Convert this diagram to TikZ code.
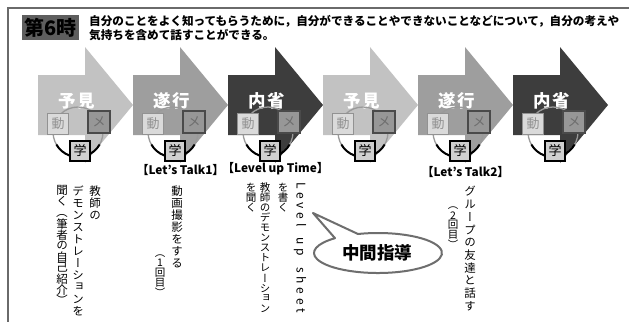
\documentclass[tikz,border=0pt]{standalone}
\usepackage{fontspec}
\usepackage{graphicx}
\setmainfont{Noto Sans CJK JP}
\newfontfamily\jp{Noto Sans CJK JP}
\newfontfamily\vjp[RawFeature=+vert]{Noto Sans CJK JP}
\usetikzlibrary{calc}
\definecolor{aone}{HTML}{C2C2C2}
\definecolor{atwo}{HTML}{9E9E9E}
\definecolor{athree}{HTML}{3D3D3D}
\definecolor{framegrey}{HTML}{6A6A6A}
\definecolor{titlebox}{HTML}{5E5E5E}
\definecolor{arcgrey}{HTML}{9A9A9A}
\definecolor{dofill}{HTML}{DADADA}
\definecolor{doline}{HTML}{929292}
\definecolor{mefill}{HTML}{979797}
\definecolor{meline}{HTML}{4A4A4A}
\definecolor{gakufill}{HTML}{CFCFCF}
\definecolor{bubbleline}{HTML}{6E6E6E}
\ExplSyntaxOn
\cs_new:Npn \tatechar:n #1
  {
    \str_case:nnF {#1}
      {
        {（} { \rotatebox[origin=c]{-90}{\jp （} }
        {）} { \rotatebox[origin=c]{-90}{\jp ）} }
      }
      {#1}
  }
\NewDocumentCommand\tate{O{12pt}m}
  {
    \vbox:n
      {
        \offinterlineskip
        \tl_map_inline:nn {#2}
          { \hbox_to_wd:nn {1.1em} { \hss \vbox_to_ht:nn {#1} { \vss \hbox:n { \tatechar:n {##1} } \vss } \hss } }
      }
  }
\ExplSyntaxOff
\begin{document}
\begin{tikzpicture}[x=1pt,y=-1pt,
  frameline/.style={draw=framegrey,line width=1.2pt},
  numbox/.style={fill=titlebox,minimum width=57pt,minimum height=25pt,inner sep=0pt,font=\jp\bfseries\fontsize{20}{20}\selectfont,text=black},
  titletext/.style={anchor=west,inner sep=0pt,font=\jp\bfseries\fontsize{11.6}{14}\selectfont},
  phase/.style={text=white,inner sep=0pt,font=\jp\bfseries\fontsize{17.5}{18}\selectfont\addfontfeatures{LetterSpace=10}},
  dobox/.style={draw=doline,line width=1.4pt,fill=dofill,text=doline,minimum size=21pt,inner sep=0pt,font=\jp\fontsize{13}{13}\selectfont},
  mebox/.style={draw=meline,line width=1.4pt,fill=mefill,text=meline!80,minimum size=22pt,inner sep=0pt,font=\jp\fontsize{13}{13}\selectfont},
  gakubox/.style={draw=black,line width=1.8pt,fill=gakufill,text=black,minimum size=20pt,inner sep=0pt,font=\jp\fontsize{13}{13}\selectfont},
  ring/.style={draw=arcgrey,line width=1.3pt},
  ringlow/.style={draw=black,line width=2pt},
  talk/.style={inner sep=0pt,font=\jp\bfseries\fontsize{11.8}{12}\selectfont},
  vcol/.style={anchor=north,inner sep=0pt,font=\vjp\fontsize{11.5}{12}\selectfont},
  vcolsmall/.style={anchor=north,inner sep=0pt,font=\vjp\fontsize{10.5}{11}\selectfont},
  latincol/.style={anchor=north,inner sep=0pt,font=\jp\fontsize{12}{12}\selectfont},
  bubble/.style={draw=bubbleline,line width=2pt,fill=white,line join=round},
  bubbletext/.style={inner sep=0pt,font=\jp\bfseries\fontsize{17.5}{18}\selectfont}
]
\useasboundingbox (0,0) rectangle (629,322);
\fill[white] (0,0) rectangle (629,322);

% frame
\draw[frameline] (629,8) -- (8,8) -- (8,322);

% header
\node[numbox] (num) at (50.5,27.5) {第6時};
\node[titletext] (t1) at (89,21) {自分のことをよく知ってもらうために，自分ができることやできないことなどについて，自分の考えや};
\node[titletext] (t2) at (89,35) {気持ちを含めて話すことができる。};

% labels under arrows
\node[talk] (lt1) at (180.5,170) {【Let’s Talk1】};
\node[talk] (lut) at (275.5,169) {【Level up Time】};
\node[talk] (lt2) at (465.5,172) {【Let’s Talk2】};

% arrows
\foreach \b/\c/\t/\i in {38/aone/予見/1,133/atwo/遂行/2,228/athree/内省/3,323/aone/予見/4,418/atwo/遂行/5,513/athree/内省/6}{
  \fill[\c] (\b,75) -- (\b+47,75) -- (\b+47,47) -- (\b+95,105) -- (\b+47,163) -- (\b+47,135) -- (\b,135) -- cycle;
  \node[phase] (ph\i) at (\b+39,101) {\t};
  \coordinate (c\i) at (\b+40,132);
  \draw[ring] (c\i) circle[radius=25];
  \draw[ringlow] (c\i) ++(110:25) arc[start angle=110,end angle=150,radius=25];
  \draw[ringlow] (c\i) ++(30:25) arc[start angle=30,end angle=70,radius=25];
  \node[dobox] (do\i) at (\b+20,124) {動};
  \node[mebox] (me\i) at (\b+61,122) {メ};
  \node[gakubox] (gk\i) at (\b+42,151) {学};
}

% vertical texts
\node[vcol] (v1a) at (95,185) {\tate[12pt]{教師の}};
\node[vcol] (v1b) at (78,185) {\tate[12pt]{デモンストレーションを}};
\node[vcol] (v1c) at (62,185) {\tate[11pt]{聞く（筆者の自己紹介）}};

\node[vcol] (v2a) at (177,185) {\tate[12pt]{動画撮影をする}};
\node[vcolsmall] (v2b) at (160,248) {\tate[10pt]{（1回目）}};

\node[latincol] (v3d) at (300,182) {\rotatebox{-90}{\hbox to 131pt{L\hfill e\hfill v\hfill e\hfill l\hfill\hfill\hfill u\hfill p\hfill\hfill\hfill s\hfill h\hfill e\hfill e\hfill t}}};
\node[vcolsmall] (v3c) at (283,182) {\tate[10.2pt]{を書く}};
\node[vcolsmall] (v3b) at (265,182) {\tate[10.1pt]{教師のデモンストレーション}};
\node[vcolsmall] (v3a) at (251,182) {\tate[10.2pt]{を聞く}};

\node[vcol] (v5a) at (470,185) {\tate[12.7pt]{グループの友達と話す}};
\node[vcolsmall] (v5b) at (453,200) {\tate[10pt]{（2回目）}};

% speech bubble
\coordinate (tip) at (313,213);
\path[bubble] (358,234) arc[start angle=251.8,end angle=587.8,x radius=64,y radius=20] -- (tip) -- cycle;
\node[bubbletext] (bt) at (377,253) {中間指導};
\end{tikzpicture}
\end{document}
